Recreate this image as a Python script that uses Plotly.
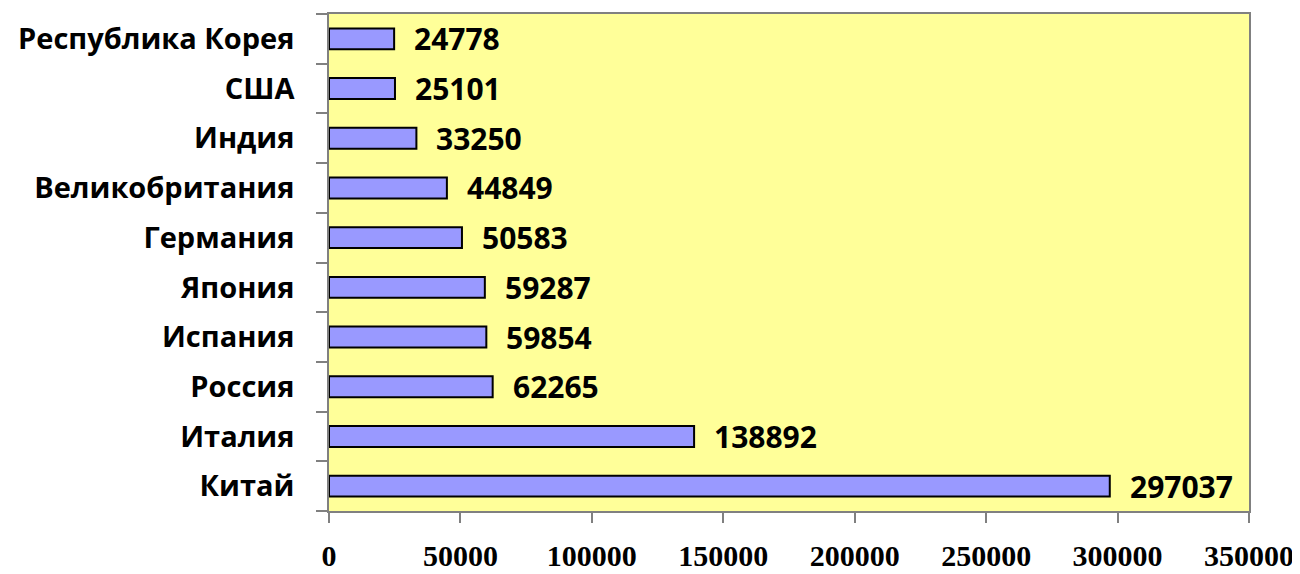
import plotly.graph_objects as go

countries = ["Китай", "Италия", "Россия", "Испания", "Япония", "Германия",
             "Великобритания", "Индия", "США", "Республика Корея"]
values = [297037, 138892, 62265, 59854, 59287, 50583, 44849, 33250, 25101, 24778]
x_ticks = [0, 50000, 100000, 150000, 200000, 250000, 300000, 350000]

fig = go.Figure()
fig.add_trace(go.Bar(
    y=countries, x=values, orientation="h",
    marker=dict(color="#9999FF", line=dict(color="#000000", width=2)),
    hoverinfo="x+y",
))

for c, v in zip(countries, values):
    fig.add_annotation(x=v, y=c, text=str(v), showarrow=False, xanchor="left",
                       xshift=18, font=dict(family="Open Sans", size=30, color="#000000",
                                             weight="bold"))

# page body has an 8px default margin, so the figure is sized/offset to compensate
fig.update_layout(
    width=1292, height=566,
    margin=dict(l=321, r=51, t=6, b=63, autoexpand=False),
    paper_bgcolor="#FFFFFF",
    plot_bgcolor="#FFFF99",
    bargap=0.58,
    showlegend=False,
)
fig.update_xaxes(
    range=[0, 350000], tickvals=x_ticks, ticktext=[str(t) for t in x_ticks],
    showgrid=False, zeroline=False, automargin=False,
    showline=True, linecolor="#808080", linewidth=1.5, mirror=True,
    ticks="outside", ticklen=10, tickcolor="#808080", tickwidth=1.5,
    ticklabelstandoff=7,
    tickfont=dict(family="Liberation Serif", size=30, color="#000000", weight="bold"),
)
fig.update_yaxes(
    categoryorder="array", categoryarray=countries,
    showgrid=False, zeroline=False, automargin=False,
    showline=True, linecolor="#808080", linewidth=1.5, mirror=True,
    ticks="outside", ticklen=11, tickcolor="#808080", tickwidth=1.5,
    tickson="boundaries", ticklabelstandoff=27,
    tickfont=dict(family="Open Sans", size=29, color="#000000", weight="bold"),
)

fig.write_html("out.html")
